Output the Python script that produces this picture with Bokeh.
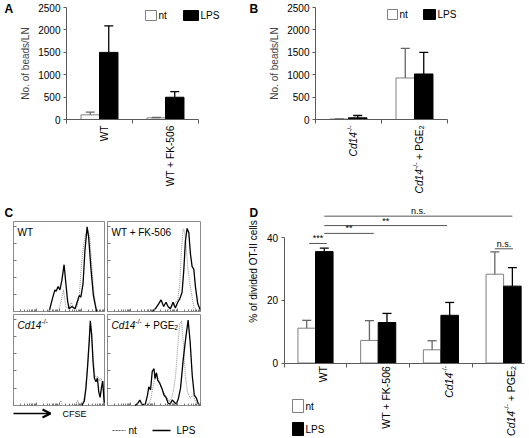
import math
from bokeh.plotting import figure
from bokeh.models import (Range1d, LinearAxis, FixedTicker, Whisker, TeeHead,
                          ColumnDataSource, Arrow, OpenHead, CustomJSTickFormatter)
from bokeh.core.properties import value
from bokeh.embed import file_html
from bokeh.resources import INLINE

FONT = value("Liberation Sans")
FONT_NAME = "Liberation Sans"

# ---------------- data ----------------
A_groups = ["WT", "WT + FK-506"]
A_nt = [104, 37]
A_nt_err = [60, 8]
A_lps = [1498, 497]
A_lps_err = [594, 126]
AB_yticks = [0, 500, 1000, 1500, 2000, 2500]

B_groups = ["Cd14-/-", "Cd14-/- + PGE2"]
B_nt = [10, 927]
B_nt_err = [5, 661]
B_lps = [37, 1016]
B_lps_err = [52, 483]

D_groups = ["WT", "WT + FK-506", "Cd14-/-", "Cd14-/- + PGE2"]
D_nt = [11.1, 7.2, 4.2, 28.3]
D_nt_err = [2.5, 6.3, 2.9, 7.1]
D_lps = [35.5, 12.9, 15.2, 24.5]
D_lps_err = [1.1, 2.9, 4.1, 5.9]
D_yticks = [0, 20, 40]
# significance brackets: label, from (group pos), to (group pos), level
D_sig_label = ["***", "**", "**", "n.s.", "n.s."]
D_sig_from = [-0.1, 0.14, 0.14, 0.14, 2.86]
D_sig_to = [0.18, 0.93, 2.1, 3.14, 3.15]
D_sig_level = [38.1, 41.3, 43.8, 46.8, 36.4]

# panel C histograms (x: % of CFSE axis, y: % of max)
C_titles = ["WT", "WT + FK-506", "Cd14-/-", "Cd14-/- + PGE2"]
C_WT_lps_x = [39.2, 42.7, 45.5, 46.9, 49, 51, 53.1, 55.6, 57.6, 59.4, 61.1, 64.2, 67.7, 70.5, 72.2, 74, 76.4, 78.5, 80.9, 82.6, 85, 87.8, 89.6, 91.3]
C_WT_lps_y = [0, 14, 24, 22.5, 27.7, 24, 34.3, 52, 30.6, 12.2, 3, 5.5, 3, 12.2, 17.7, 15.9, 30.6, 67.5, 94, 82.3, 49, 17.7, 8.5, 0]
C_WT_nt_x = [49.7, 52.4, 54.9, 57.6, 60.8, 63.5, 66.3, 69.8, 72.2, 74.7, 76.7, 79.2, 81.6, 83.7, 86.1, 88.5, 91.3]
C_WT_nt_y = [0, 12, 24, 5.5, 3, 10, 3, 5.5, 16, 53, 71, 86, 90, 83, 49, 19.6, 1]
C_FK_lps_x = [47.8, 51.4, 55, 57.6, 60.4, 62.9, 65.1, 67.6, 70.5, 73, 75.5, 77.7, 80.2, 82, 83.8, 85.6, 87.4, 89.2, 91, 92.8, 94.6, 97.1, 100]
C_FK_lps_y = [0, 3, 8.5, 12.9, 5.5, 10.3, 5.5, 3, 10.3, 4, 10.3, 14, 21.4, 45.4, 78.6, 92.3, 87.8, 63.8, 49.8, 47.2, 27, 8.5, 1]
C_FK_nt_x = [64, 66.5, 70.1, 73, 75.5, 77.7, 79.5, 81.3, 82.7, 84.5, 86.3, 88.5, 91, 92.8, 96.4]
C_FK_nt_y = [0, 3, 5.5, 10.3, 12.2, 30.6, 67.5, 91.5, 89.7, 74.9, 49, 30.6, 15.9, 4.8, 1]
C_KO_lps_x = [75.2, 77.8, 79.6, 81.5, 83.3, 84.4, 85.9, 87.4, 88.9, 90.7, 92.2, 93.7, 95.2, 96.7, 98.1, 99.3, 100]
C_KO_lps_y = [0, 5, 19, 44, 72, 93, 78, 48, 30, 26, 30, 15, 9, 20, 27, 8, 0]
C_KO_nt_x = [49.6, 52, 54, 68, 70.4, 72.6, 76.3, 78.5, 80.7, 82.6, 84.1, 85.6, 87.4, 89.3, 91.1, 92.6, 94.4, 96.3, 97.8, 99.3, 100]
C_KO_nt_y = [0, 5.5, 0, 0, 6, 0, 3, 12, 35, 65, 88, 80, 55, 34, 30, 32, 27, 30, 22, 12, 0]
C_PGE_lps_x = [29.6, 32.6, 34.8, 37, 40.7, 43, 44.4, 46.3, 48.1, 50, 51.1, 52.6, 54, 56.3, 58.5, 60.7, 63, 65.2, 67.4, 69.6, 71.9, 74, 76.3, 78.5, 81.5, 84.4, 86.7, 88.9, 91.1, 93.3, 95.6, 97.8, 100]
C_PGE_lps_y = [0, 2.5, 6, 1, 1.5, 11.5, 20.6, 17, 37.5, 40.4, 29.6, 36.1, 27.8, 24.2, 18.8, 11.5, 8.7, 2.5, 1.5, 6, 3.6, 1.5, 8, 18.8, 51.3, 76.5, 93.9, 69.3, 33.2, 11.5, 8, 1.5, 0]
C_PGE_nt_x = [44.4, 46.7, 48.9, 51.1, 53.3, 55.6, 57.8, 60, 62.2, 64.4, 66.7, 68.9, 71.1, 73.3, 75.6, 77.8, 79.6, 81.5, 83.7, 85.9, 88.9, 91.9, 94.8, 97.8, 100]
C_PGE_nt_y = [0, 8, 20.6, 29.6, 34, 26, 20.6, 15.2, 11.5, 8, 4.3, 8, 17, 33.2, 65.7, 89.2, 92.8, 69.3, 33.2, 15.2, 8, 11.5, 4.3, 1.5, 0]

# ---------------- layout (pixel frame) ----------------
W, H = 529, 438
RX0, RX1 = 0.0, 529.0
RY0, RY1 = 0.0, 438.0
KX = W / (RX1 - RX0)
KY = H / (RY1 - RY0)


def lin_range(v0, p0, v1, p1, b_start, b_end):
    k = (v1 - v0) / (p1 - p0)
    return Range1d(start=v0 + k * (b_start - p0), end=v0 + k * (b_end - p0))


def xr(v0, p0, v1, p1):
    return lin_range(v0, p0, v1, p1, RX0, RX1)


def yr(v0, p0, v1, p1):
    return lin_range(v0, p0, v1, p1, RY1, RY0)


C_KEYS = ["C0", "C1", "C2", "C3"]
C_BOX = [(13, 104, 221, 311), (107, 200, 221, 311), (13, 104, 314, 405), (107, 200, 314, 405)]

xranges = {"Ax": xr(0, 99, 1, 165), "Bx": xr(0, 348, 1, 414), "Dx": xr(0, 315, 1, 377.7)}
yranges = {"Ay": yr(0, 119, 2500, 7), "By": yr(0, 119, 2500, 7), "Dy": yr(0, 362.5, 40, 237)}
for key, (x0, x1, y0, y1) in zip(C_KEYS, C_BOX):
    xranges[key + "x"] = xr(0, x0, 100, x1)
    yranges[key + "y"] = yr(0, y1, 100, y0)

p = figure(width=W, height=H, x_range=Range1d(RX0, RX1), y_range=Range1d(RY1, RY0),
           x_axis_type=None, y_axis_type=None, toolbar_location=None,
           output_backend="svg", min_border=0, outline_line_color=None)
p.extra_x_ranges = xranges
p.extra_y_ranges = yranges

WID = {'C': 722, 'd': 556, '1': 556, '4': 556, '-': 333, '/': 278, ' ': 278, '+': 584,
       'P': 667, 'G': 778, 'E': 667, '2': 556, 'W': 944, 'T': 611, 'F': 611, 'K': 667,
       '5': 556, '0': 556, '6': 556}


def tw(s, size):
    return sum(WID.get(c, 556) for c in s) / 1000.0 * size


LBL = {
    "WT": [("WT", "n")],
    "WT + FK-506": [("WT + FK-506", "n")],
    "Cd14-/-": [("Cd14", "i"), ("-/-", "sup")],
    "Cd14-/- + PGE2": [("Cd14", "i"), ("-/-", "sup"), (" ", "gap"), ("+ PGE", "n"), ("2", "sub")],
}


def piece_style(kind, size):
    fs = size * 0.68 if kind in ("sup", "sub") else size
    shift = -0.38 * size if kind == "sup" else (0.2 * size if kind == "sub" else 0.0)
    return fs, shift


def rich(parts, x, y_mid, size, color="black"):
    xx = x
    for txt, kind in parts:
        fs, shift = piece_style(kind, size)
        if kind != "gap":
            p.text(x=[xx], y=[y_mid + (0.36 * size + shift) / KY], text=[txt],
                   text_font=FONT, text_font_size=f"{fs:.1f}px",
                   text_font_style="italic" if kind == "i" else "normal",
                   text_align="left", text_baseline="alphabetic", text_color=color)
        xx += tw(txt, fs) / KX


def rot_label(prefix, i, parts, size, gap, dx):
    kw = dict(x_range_name=prefix + "x", y_range_name=prefix + "y")
    off = gap
    for txt, kind in reversed(parts):
        fs, shift = piece_style(kind, size)
        if kind != "gap":
            p.text(x=[i], y=[0], text=[txt], angle=math.pi / 2,
                   x_offset=0.36 * size + dx + shift, y_offset=off,
                   text_align="right", text_baseline="alphabetic",
                   text_font=FONT, text_font_size=f"{fs:.1f}px",
                   text_font_style="italic" if kind == "i" else "normal",
                   text_color="black", **kw)
        off += tw(txt, fs)


def blank():
    return CustomJSTickFormatter(code="return ''")


AX_COL = "#5a5a5a"
BW = 0.28


def bar_panel(prefix, groups, nt, nt_err, lps, lps_err, yticks, xmax_bound, ylabel, size, gap, dx):
    kw = dict(x_range_name=prefix + "x", y_range_name=prefix + "y")
    n = len(groups)
    xn = [i - BW / 2 for i in range(n)]
    xl = [i + BW / 2 for i in range(n)]
    p.vbar(x=xn, top=nt, bottom=0, width=BW, fill_color="white",
           line_color="#808080", line_width=1, **kw)
    p.vbar(x=xl, top=lps, bottom=0, width=BW, fill_color="black",
           line_color="black", line_width=1, **kw)
    for xs, v, e, col in ((xn, nt, nt_err, "#666666"), (xl, lps, lps_err, "black")):
        src = ColumnDataSource(dict(base=xs, lower=v, upper=[a + b for a, b in zip(v, e)]))
        p.add_layout(Whisker(source=src, base="base", lower="lower", upper="upper",
                             dimension="height", line_color=col, line_width=1.3,
                             lower_head=None,
                             upper_head=TeeHead(size=9, line_color=col, line_width=1.3),
                             level="glyph", **kw))
    ya = LinearAxis(fixed_location=-0.5, bounds=(yticks[0], yticks[-1]),
                    ticker=FixedTicker(ticks=yticks), major_tick_out=3, major_tick_in=0,
                    major_label_standoff=3, axis_line_color=AX_COL,
                    major_tick_line_color=AX_COL, minor_tick_line_color=None,
                    major_label_text_font=FONT_NAME, major_label_text_font_size="10px",
                    major_label_text_color="black", **kw)
    if ylabel:
        ya.axis_label = ylabel
        ya.axis_label_text_font = FONT_NAME
        ya.axis_label_text_font_size = "10px"
        ya.axis_label_text_font_style = "normal"
        ya.axis_label_standoff = 4
    p.add_layout(ya, "left")
    xa = LinearAxis(fixed_location=0, bounds=(-0.5, xmax_bound),
                    ticker=FixedTicker(ticks=[i - 0.5 for i in range(n + 1) if i - 0.5 <= xmax_bound]),
                    formatter=blank(), major_tick_out=4, major_tick_in=0,
                    axis_line_color=AX_COL, major_tick_line_color=AX_COL,
                    minor_tick_line_color=None, **kw)
    p.add_layout(xa, "below")
    for i, g in enumerate(groups):
        rot_label(prefix, i, LBL[g], size, gap, dx)


bar_panel("A", A_groups, A_nt, A_nt_err, A_lps, A_lps_err, AB_yticks, 1.5, "No. of beads/LN", 10.2, 6, 1)
bar_panel("B", B_groups, B_nt, B_nt_err, B_lps, B_lps_err, AB_yticks, 1.5, "No. of beads/LN", 10.2, 6, 1)
bar_panel("D", D_groups, D_nt, D_nt_err, D_lps, D_lps_err, D_yticks, 3.33, None, 10.5, 3, 4)

# D significance brackets
Dkw = dict(x_range_name="Dx", y_range_name="Dy")
p.segment(x0=D_sig_from, y0=D_sig_level, x1=D_sig_to, y1=D_sig_level,
          line_color="#555555", line_width=1, **Dkw)
p.text(x=[(a + b) / 2 for a, b in zip(D_sig_from, D_sig_to)], y=D_sig_level, text=D_sig_label,
       text_align="center", text_baseline="bottom", text_font=FONT, text_font_size="9px",
       text_color="black", **Dkw)

# D y label
p.text(x=[253], y=[271], text=["% of divided OT-II cells"], angle=math.pi / 2,
       text_align="center", text_baseline="middle", text_font=FONT,
       text_font_size="10px", text_color="black")

# ---------------- panel C ----------------
C_curves = [(C_WT_lps_x, C_WT_lps_y, C_WT_nt_x, C_WT_nt_y),
            (C_FK_lps_x, C_FK_lps_y, C_FK_nt_x, C_FK_nt_y),
            (C_KO_lps_x, C_KO_lps_y, C_KO_nt_x, C_KO_nt_y),
            (C_PGE_lps_x, C_PGE_lps_y, C_PGE_nt_x, C_PGE_nt_y)]
minor_log = [25 * d + 25 * math.log10(k) for d in range(4) for k in range(2, 10)]
for key, (lx, ly, nx, ny), title, (x0, x1, y0, y1) in zip(C_KEYS, C_curves, C_titles, C_BOX):
    kw = dict(x_range_name=key + "x", y_range_name=key + "y")
    p.quad(left=[0], right=[100], bottom=[0], top=[100], fill_color=None,
           line_color="#8c8c8c", line_width=1, **kw)
    la = LinearAxis(fixed_location=0, bounds=(0, 100), ticker=FixedTicker(ticks=[19, 38, 57, 76, 95]),
                    formatter=blank(), major_tick_in=3, major_tick_out=0, axis_line_color=None,
                    major_tick_line_color="#777777", minor_tick_line_color=None, **kw)
    p.add_layout(la, "left")
    ba = LinearAxis(fixed_location=0, bounds=(0, 100),
                    ticker=FixedTicker(ticks=[0, 25, 50, 75, 100], minor_ticks=minor_log),
                    formatter=blank(), major_tick_in=3, major_tick_out=0,
                    minor_tick_in=2, minor_tick_out=0, axis_line_color=None,
                    major_tick_line_color="#777777", minor_tick_line_color="#777777", **kw)
    p.add_layout(ba, "below")
    p.line(nx, ny, line_color="#9a9a9a", line_width=1.1, line_dash="1 1", **kw)
    p.line(lx, ly, line_color="black", line_width=1.3, **kw)
    rich(LBL[title], x0 + 4, y0 + 7, 10)

# CFSE arrow + legend
p.add_layout(Arrow(end=OpenHead(size=8, line_width=2, line_color="black"),
                   x_start=13, y_start=413, x_end=50, y_end=413,
                   line_width=1.6, line_color="black"))
p.text(x=[62], y=[413], text=["CFSE"], text_font=FONT, text_font_size="9px",
       text_align="left", text_baseline="middle", text_color="black")
p.segment(x0=[112], y0=[430], x1=[125], y1=[430], line_color="#555555",
          line_dash="2 1", line_width=1)
p.segment(x0=[152], y0=[430], x1=[170], y1=[430], line_color="black", line_width=1.3)
p.text(x=[128, 176], y=[430, 430], text=["nt", "LPS"], text_font=FONT, text_font_size="10px",
       text_align="left", text_baseline="middle", text_color="black")

# ---------------- legends for A, B, D ----------------
def leg_box(l, r, t, b, fill, line):
    p.quad(left=[l], right=[r], top=[t], bottom=[b], fill_color=fill, line_color=line, line_width=1)


leg_box(145, 156, 10, 20, "white", "#808080")
leg_box(183, 198, 10, 20, "black", "black")
leg_box(387, 397, 9, 19, "white", "#808080")
leg_box(423, 435, 9, 19, "black", "black")
leg_box(292, 303, 399, 412, "white", "#808080")
leg_box(292, 303, 422, 435, "black", "black")
p.text(x=[158, 200, 399, 437, 305, 305], y=[15, 15, 14, 14, 405.5, 428.5],
       text=["nt", "LPS", "nt", "LPS", "nt", "LPS"], text_font=FONT, text_font_size="10px",
       text_align="left", text_baseline="middle", text_color="black")

# panel letters
p.text(x=[4, 249, 4, 249], y=[8, 8, 212, 212], text=["A", "B", "C", "D"], text_font=FONT,
       text_font_size="12px", text_font_style="bold", text_align="left",
       text_baseline="middle", text_color="black")

open("out.html", "w").write(file_html(p, INLINE))
